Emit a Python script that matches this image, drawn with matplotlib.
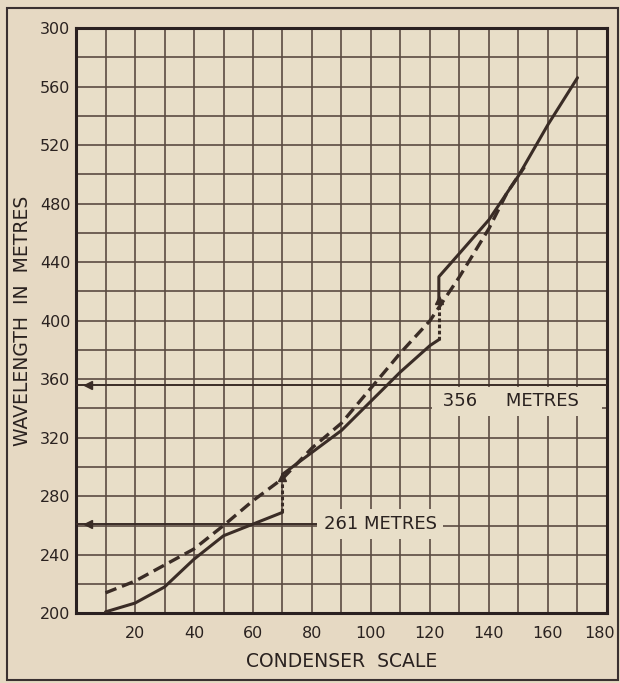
import numpy as np
import matplotlib.pyplot as plt
from matplotlib.patches import Rectangle
from matplotlib.transforms import ScaledTranslation

# ---------------------------
# data
# ---------------------------
# solid curve, three pieces (jumps at 70 and 123)
solid1_x = [10, 20, 30, 40, 50, 60, 70]
solid1_y = [201, 207, 218, 237, 253, 261, 269]
solid2_x = [70, 80, 90, 100, 110, 120, 123]
solid2_y = [295, 310, 325, 345, 365, 383, 387]
solid3_x = [123, 123, 130, 140, 150, 160, 170]
solid3_y = [414, 430, 446, 469, 499, 534, 566]

# dashed curve
dash_x = [10, 20, 30, 40, 50, 60, 70, 80, 90, 100, 110, 120, 130, 140, 146, 152]
dash_y = [214, 222, 233, 244, 260, 277, 292, 313, 330, 354, 378, 400, 430, 463, 487, 505]

# jumps on the solid curve (dotted, arrow at top)
jump_x = [70, 123]
jump_lo = [269, 387]
jump_hi = [293, 414]

# marked wavelengths
mark_wl = [261, 356]
mark_end = [83, 180]

x_ticks = [20, 40, 60, 80, 100, 120, 140, 160, 180]
y_ticks = [200, 240, 280, 320, 360, 400, 440, 480, 520, 560, 600]
y_labels = ['200', '240', '280', '320', '360', '400', '440', '480', '520', '560', '300']

bg = '#e8dec8'
ink = '#3a2c26'
grid_c = '#5b4b42'

plt.rcParams['font.family'] = ['DejaVu Sans']

fig = plt.figure(figsize=(6.2, 6.83), dpi=100, facecolor='#e6d9c3')
ax = fig.add_axes([0.1226, 0.102, 0.8564, 0.857])
ax.set_facecolor(bg)

ax.set_xlim(0, 180)
ax.set_ylim(200, 600)

ax.set_xticks(np.arange(0, 181, 10), minor=True)
ax.set_yticks(np.arange(200, 601, 20), minor=True)
ax.set_xticks(x_ticks)
ax.set_yticks(y_ticks)
ax.set_yticklabels(y_labels)
ax.tick_params(which='both', length=0, labelsize=11.5, labelcolor='#2a2220')
ax.tick_params(axis='x', pad=9)
ax.tick_params(axis='y', pad=4)
ax.grid(True, which='both', color=grid_c, lw=1.2, zorder=0)
ax.set_axisbelow(True)

# last x label sits a little left of the corner
last = ax.get_xticklabels()[-1]
last.set_transform(last.get_transform() + ScaledTranslation(-0.07, 0, fig.dpi_scale_trans))

for s in ax.spines.values():
    s.set_linewidth(2.2)
    s.set_color('#2a2020')

# curves
for xs, ys in [(solid1_x, solid1_y), (solid2_x, solid2_y), (solid3_x, solid3_y)]:
    ax.plot(xs, ys, color=ink, lw=2.2, solid_capstyle='round', zorder=4)
ax.plot(dash_x, dash_y, color=ink, lw=2.4, dashes=(3.5, 1.8), zorder=4)

for jx, lo, hi in zip(jump_x, jump_lo, jump_hi):
    ax.plot([jx, jx], [lo, hi], color=ink, lw=2.2, ls=(0, (1.2, 0.8)), zorder=4)
    ax.plot(jx, hi, marker='^', ms=6, color=ink, zorder=5)

# marked wavelengths
for wl, xe in zip(mark_wl, mark_end):
    ax.plot([0, xe], [wl, wl], color=ink, lw=1.4, zorder=3)
    ax.plot(4, wl, marker='<', ms=6, color=ink, zorder=5)

ax.text(122.5, 345, ' 356     METRES   ', fontsize=13, color='#2a2220', va='center', ha='left',
        bbox=dict(boxstyle='square', fc=bg, ec='none', pad=0.3), zorder=3)
ax.text(84, 261, '261 METRES', fontsize=13, color='#2a2220', va='center', ha='left',
        bbox=dict(boxstyle='square', fc=bg, ec='none', pad=0.35), zorder=3)

ax.set_xlabel('CONDENSER  SCALE', fontsize=13.5, color='#2a2220', labelpad=8)
ax.set_ylabel('WAVELENGTH  IN  METRES', fontsize=13.5, color='#2a2220', labelpad=6)

# outer frame of the scanned figure
fig.patches.append(Rectangle((0.011, 0.004), 0.986, 0.984, transform=fig.transFigure,
                             fill=False, ec='#3a3030', lw=1.5))

fig.savefig('out.png', dpi=100, facecolor=fig.get_facecolor())
